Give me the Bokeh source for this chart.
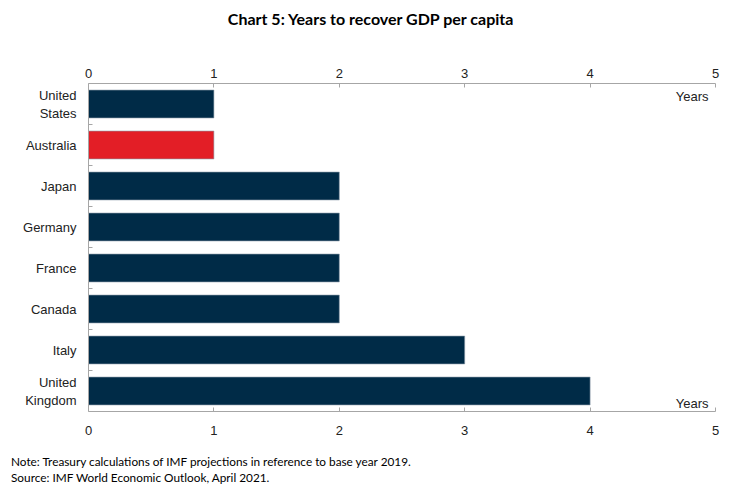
from bokeh.plotting import figure
from bokeh.layouts import column
from bokeh.models import (FactorRange, LinearAxis, FixedTicker, Label,
                          ColumnDataSource, Range1d, Div)
from bokeh.core.properties import value
from bokeh.transform import dodge
from bokeh.embed import file_html
from bokeh.resources import INLINE

# ---- data ----
countries = ["United\nStates", "Australia", "Japan", "Germany", "France",
             "Canada", "Italy", "United\nKingdom"]
years = [1, 1, 2, 2, 2, 2, 3, 4]
highlight = ["Australia"]
x_ticks = [0, 1, 2, 3, 4, 5]
title_text = "Chart 5: Years to recover GDP per capita"
note_lines = ["Note: Treasury calculations of IMF projections in reference to base year 2019.",
              "Source: IMF World Economic Outlook, April 2021."]
unit_text = "Years"

NAVY = "#002B47"
RED = "#E31E26"
AXIS = "#A6A6A6"
LABEL_FONT = "Liberation Sans"
TEXT_FONT = "Lato"

W = 732
TITLE_H = 40
MAIN_H = 410
NOTES_H = 36
FRAME_L, FRAME_T, FRAME_R, FRAME_B = 88, 83, 715, 411   # page coordinates

# ---- title strip ----
ft = figure(width=W, height=TITLE_H, output_backend="svg", toolbar_location=None,
            x_range=Range1d(FRAME_L, FRAME_R), y_range=Range1d(TITLE_H, 0),
            x_axis_location=None, y_axis_location=None,
            min_border_left=0, min_border_right=0,
            min_border_top=0, min_border_bottom=0)
ft.outline_line_color = None
ft.xgrid.visible = False
ft.ygrid.visible = False
ft.text(x=[371], y=[18], text=[title_text], text_align="center",
        text_baseline="middle", text_font=value(TEXT_FONT), text_font_size="16px",
        text_font_style="bold", text_color="#000000")

# ---- main chart ----
colors = [RED if c in highlight else NAVY for c in countries]
src = ColumnDataSource(dict(cat=countries, val=years, color=colors))
tick_src = ColumnDataSource(dict(cat=countries[1:], x0=[0] * (len(countries) - 1),
                                 x1=[0.032] * (len(countries) - 1)))

p = figure(width=W, height=MAIN_H, output_backend="svg", toolbar_location=None,
           y_range=FactorRange(factors=list(reversed(countries))),
           x_range=Range1d(0, 5), x_axis_location=None,
           min_border_left=FRAME_L, min_border_right=W - FRAME_R,
           min_border_top=FRAME_T - TITLE_H,
           min_border_bottom=TITLE_H + MAIN_H - FRAME_B)
p.outline_line_color = None
p.xgrid.visible = False
p.ygrid.visible = False
p.background_fill_color = "white"

p.hbar(y="cat", right="val", left=0, height=0.68, fill_color="color",
       line_color="#8A9BA8", line_width=0.6, source=src)

p.segment(x0="x0", x1="x1", y0=dodge("cat", 0.5, range=p.y_range),
          y1=dodge("cat", 0.5, range=p.y_range), line_color=AXIS, line_width=1,
          source=tick_src)

ya = p.yaxis[0]
ya.axis_line_color = AXIS
ya.major_tick_line_color = None
ya.minor_tick_line_color = None
ya.major_label_text_font = LABEL_FONT
ya.major_label_text_font_size = "13px"
ya.major_label_text_color = "#222222"
ya.major_label_standoff = 6

def make_xaxis():
    ax = LinearAxis(ticker=FixedTicker(ticks=x_ticks))
    ax.axis_line_color = AXIS
    ax.major_tick_line_color = AXIS
    ax.major_tick_in = 4
    ax.major_tick_out = 0
    ax.minor_tick_line_color = None
    ax.major_label_text_font = LABEL_FONT
    ax.major_label_text_font_size = "13px"
    ax.major_label_text_color = "#222222"
    return ax

top_ax = make_xaxis()
top_ax.major_label_standoff = 6
bot_ax = make_xaxis()
bot_ax.major_label_standoff = 14
p.add_layout(top_ax, "above")
p.add_layout(bot_ax, "below")

p.add_layout(Label(x=5, y=len(countries), x_offset=-7, y_offset=-5, text=unit_text,
                   text_align="right", text_baseline="top", text_font=LABEL_FONT,
                   text_font_size="13px", text_color="#222222"))
p.add_layout(Label(x=5, y=0, x_offset=-7, y_offset=1, text=unit_text,
                   text_align="right", text_baseline="bottom", text_font=LABEL_FONT,
                   text_font_size="13px", text_color="#222222"))

# ---- notes strip ----
notes = Div(text="<br>".join(note_lines), width=W, height=NOTES_H,
            styles={"font-family": TEXT_FONT, "font-size": "11.8px",
                    "line-height": "16px", "padding-left": "11px",
                    "padding-top": "4px", "color": "#000000",
                    "margin": "0px", "box-sizing": "border-box"})

layout = column(ft, p, notes, spacing=0)
open("out.html", "w").write(file_html(layout, INLINE))
